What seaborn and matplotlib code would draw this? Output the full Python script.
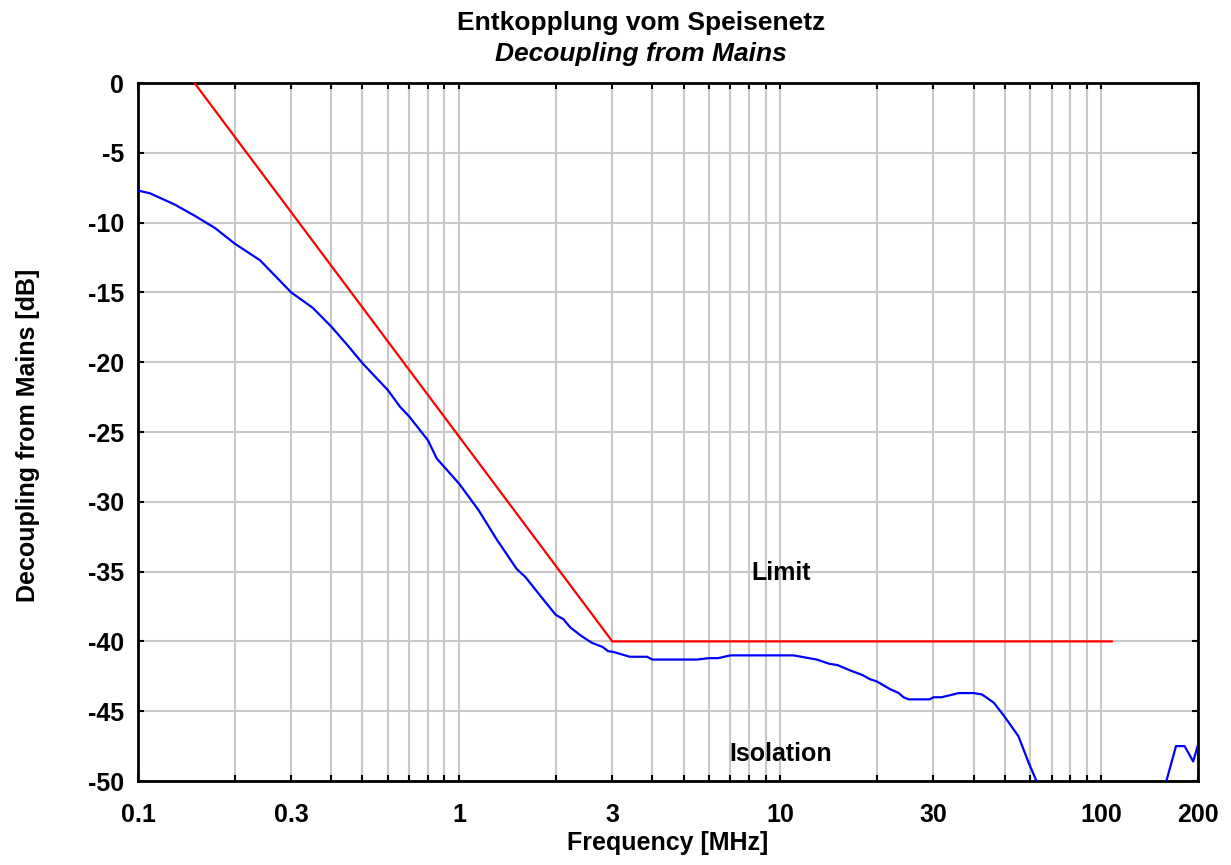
import numpy as np
import pandas as pd
import matplotlib
matplotlib.use("Agg")
import matplotlib.pyplot as plt
import seaborn as sns
from matplotlib.ticker import FixedLocator, NullFormatter

# Limit line (red)
limit_freq = [0.15, 3.0, 108.0]
limit_db = [0.0, -40.0, -40.0]

# Measured isolation (blue)
iso_freq = [0.1, 0.109, 0.13, 0.15, 0.174, 0.2, 0.24, 0.3, 0.35, 0.4, 0.45, 0.5,
            0.6, 0.655, 0.7, 0.8, 0.852, 1.0, 1.15, 1.31, 1.51, 1.61, 1.8, 2.0,
            2.11, 2.22, 2.4, 2.59, 2.8, 2.91, 3.02, 3.4, 3.85, 4.0, 5.5, 6.0,
            6.4, 7.0, 10.0, 11.0, 13.0, 14.2, 15.1, 16.6, 18.0, 19.0, 20.0,
            21.9, 23.4, 24.2, 25.1, 29.2, 30.0, 31.8, 36.0, 40.0, 42.5, 46.3,
            50.0, 55.2, 59.4, 62.8, 70.0, 100.0, 150.0, 159.4, 170.8, 181.7,
            193.2, 200.0]
iso_db = [-7.7, -7.9, -8.7, -9.5, -10.4, -11.5, -12.7, -15.0, -16.1, -17.45, -18.8, -20.07,
          -22.0, -23.2, -23.9, -25.6, -26.9, -28.7, -30.6, -32.7, -34.8, -35.4, -36.8, -38.1,
          -38.4, -39.0, -39.6, -40.1, -40.4, -40.7, -40.75, -41.1, -41.1, -41.3, -41.3, -41.2,
          -41.2, -41.0, -41.0, -41.0, -41.3, -41.6, -41.7, -42.1, -42.4, -42.7, -42.87,
          -43.4, -43.7, -44.0, -44.15, -44.15, -44.0, -44.0, -43.7, -43.7, -43.8, -44.4,
          -45.4, -46.8, -48.7, -50.0, -53.0, -56.0, -52.0, -50.0, -47.5, -47.5,
          -48.6, -47.4]

x_ticks = [0.1, 0.3, 1, 3, 10, 30, 100, 200]
x_tick_labels = ["0.1", "0.3", "1", "3", "10", "30", "100", "200"]
y_ticks = [0, -5, -10, -15, -20, -25, -30, -35, -40, -45, -50]

sns.set_style("white")
plt.rcParams["font.family"] = ["Liberation Sans", "DejaVu Sans"]
plt.rcParams["font.weight"] = "bold"
plt.rcParams["text.color"] = "black"
plt.rcParams["axes.labelcolor"] = "black"
plt.rcParams["xtick.color"] = "black"
plt.rcParams["ytick.color"] = "black"

FS = 18

fig = plt.figure(figsize=(12.31, 8.65), dpi=100)
ax = fig.add_axes([0.1121, 0.0971, 0.8611, 0.8069])

limit_df = pd.DataFrame({"freq": limit_freq, "db": limit_db})
iso_df = pd.DataFrame({"freq": iso_freq, "db": iso_db})

sns.lineplot(data=limit_df, x="freq", y="db", ax=ax, color="#ff0000", linewidth=1.6,
             sort=False, estimator=None, zorder=3)
sns.lineplot(data=iso_df, x="freq", y="db", ax=ax, color="#0000ff", linewidth=1.6,
             sort=False, estimator=None, zorder=3)

ax.set_xscale("log")
ax.set_xlim(0.1, 200)
ax.set_ylim(-50, 0)

minor = [m * 10.0 ** k for k in (-1, 0, 1) for m in range(2, 10)]
ax.xaxis.set_major_locator(FixedLocator(x_ticks))
ax.set_xticklabels(x_tick_labels)
ax.xaxis.set_minor_locator(FixedLocator(minor))
ax.xaxis.set_minor_formatter(NullFormatter())
ax.set_yticks(y_ticks)
ax.set_yticklabels([str(v) for v in y_ticks])

ax.grid(True, which="both", axis="x", color="#c8c8c8", linewidth=1.5)
ax.grid(True, which="major", axis="y", color="#c8c8c8", linewidth=1.5)
ax.set_axisbelow(True)

for s in ax.spines.values():
    s.set_color("black")
    s.set_linewidth(2.0)
    s.set_visible(True)

ax.tick_params(which="both", direction="in", top=True, right=True, bottom=True, left=True,
               color="black", width=1.5, length=4, labelsize=FS)
ax.tick_params(axis="x", which="major", pad=16)
ax.tick_params(axis="y", which="major", pad=10)
for lab in ax.get_xticklabels() + ax.get_yticklabels():
    lab.set_fontweight("bold")

ax.set_xlabel("Frequency [MHz]", fontsize=FS, fontweight="bold")
ax.xaxis.set_label_coords(0.5, (781 - 831) / 698)
ax.set_ylabel("Decoupling from Mains [dB]", fontsize=FS, fontweight="bold")
ax.yaxis.set_label_coords((40 - 138) / 1060, 0.495)

fig.text(641 / 1231, 1 - 30 / 865, "Entkopplung vom Speisenetz", ha="center", va="baseline",
         fontsize=FS + 1, fontweight="bold")
fig.text(641 / 1231, 1 - 61.5 / 865, "Decoupling from Mains", ha="center", va="baseline",
         fontsize=FS + 1, fontweight="bold", style="italic")

ax.text(10.1, -35.1, "Limit", ha="center", va="center", fontsize=FS, fontweight="bold")
ax.text(10.0, -48.1, "Isolation", ha="center", va="center", fontsize=FS, fontweight="bold")

fig.savefig("out.png", dpi=100)
